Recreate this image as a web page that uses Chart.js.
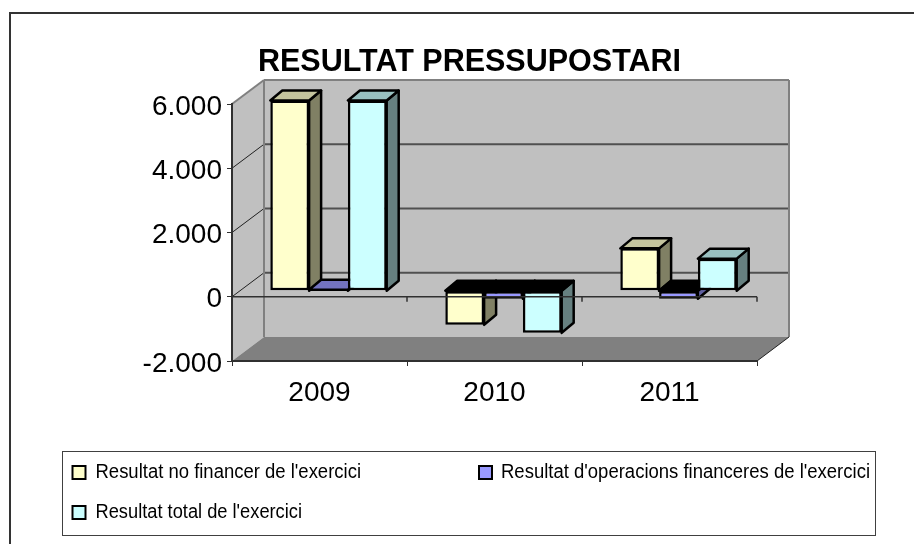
<!DOCTYPE html>
<html><head><meta charset="utf-8">
<style>html,body{margin:0;padding:0;background:#fff}#w{width:914px;height:544px;position:relative}</style>
<script src="https://cdn.jsdelivr.net/npm/chart.js@4"></script>
</head><body><div id="w"><canvas id="c" width="914" height="544"></canvas></div>
<script>
const categories = ['2009','2010','2011'];
const noFinancer = [5920,-1060,1320];
const financer = [30,-250,-250];
const total = [5920,-1310,1000];
const seriesNames = ["Resultat no financer de l'exercici","Resultat d'operacions financeres de l'exercici","Resultat total de l'exercici"];
const frontColors = ['#FFFFCC','#9999FF','#CCFFFF'];
const topColors = ['#C4C49E','#7373C0','#99C0C0'];
const sideColors = ['#808064','#6060A0','#668080'];
const titleText = 'RESULTAT PRESSUPOSTARI';
const yTicks = [-2000,0,2000,4000,6000];

const FONT = '"Liberation Sans", Arial, sans-serif';
const WALL = {dx:32, dy:-24};
const BAR = {sx:9, sy:-6, dx:12, dy:-10};
const LEGEND={x:62,y:451,w:813,h:84,items:[{x:72.5,y:472.5,tx:95.5,w:265.5},{x:479,y:472.5,tx:501,w:369},{x:72.5,y:512.5,tx:95.5,w:206.5}]};

function poly(ctx, pts, fill, stroke, lw){
  ctx.beginPath();
  pts.forEach((p,i)=> i?ctx.lineTo(p[0],p[1]):ctx.moveTo(p[0],p[1]));
  ctx.closePath();
  if(fill){ctx.fillStyle=fill;ctx.fill();}
  if(stroke){ctx.strokeStyle=stroke;ctx.lineWidth=lw||1;ctx.lineJoin='round';ctx.stroke();}
}
function seg(ctx,x1,y1,x2,y2,c,lw){
  ctx.beginPath();ctx.moveTo(x1,y1);ctx.lineTo(x2,y2);ctx.strokeStyle=c;ctx.lineWidth=lw;ctx.stroke();
}

const scene = {
  id:'scene',
  afterLayout(chart){
    chart.titleBlock.left=0; chart.titleBlock.right=939;
  },
  beforeDraw(chart){
    const {ctx,chartArea:a,scales:{y}} = chart;
    ctx.save();
    ctx.fillStyle='#fff';ctx.fillRect(0,0,914,544);
    seg(ctx,10,13,914,13,'#333',2);
    seg(ctx,10,12,10,544,'#333',2);
    const l=a.left,r=a.right,t=a.top,b=a.bottom,dx=WALL.dx,dy=WALL.dy;
    poly(ctx,[[l+dx,t+dy],[r+dx,t+dy],[r+dx,b+dy],[l+dx,b+dy]],'#C0C0C0');
    poly(ctx,[[l,t],[l+dx,t+dy],[l+dx,b+dy],[l,b]],'#C0C0C0');
    poly(ctx,[[l,b],[r,b],[r+dx,b+dy],[l+dx,b+dy]],'#808080');
    yTicks.forEach(v=>{
      if(v===yTicks[0]||v===yTicks[yTicks.length-1])return;
      const p=y.getPixelForValue(v);
      seg(ctx,l+dx,p+dy,r+dx,p+dy,'#505050',2);
      seg(ctx,l,p,l+dx,p+dy,'#202020',1);
    });
    seg(ctx,l,t,l+dx,t+dy,'#808080',2);
    seg(ctx,l+dx,t+dy,r+dx,t+dy,'#808080',2);
    seg(ctx,l+dx,t+dy,l+dx,b+dy,'#808080',2);
    seg(ctx,r+dx,t+dy,r+dx,b+dy,'#808080',2);
    seg(ctx,r,b,r+dx,b+dy,'#202020',1);
    ctx.restore();
  },
  beforeDatasetsDraw(chart){
    const {ctx,scales:{y}} = chart;
    const zero=y.getPixelForValue(0);
    ctx.save();
    ctx.translate(BAR.sx,BAR.sy);
    const d=BAR;
    chart.data.datasets.forEach((ds,i)=>{
      const meta=chart.getDatasetMeta(i);
      meta.data.forEach((el,j)=>{
        const val=ds.data[j];
        const x0=el.x-el.width/2,x1=el.x+el.width/2;
        const vy=el.y;
        const topY=Math.min(vy,zero),botY=Math.max(vy,zero);
        poly(ctx,[[x1,topY],[x1+d.dx,topY+d.dy],[x1+d.dx,botY+d.dy],[x1,botY]],sideColors[i],'#000',2.5);
        poly(ctx,[[x0,topY],[x1,topY],[x1+d.dx,topY+d.dy],[x0+d.dx,topY+d.dy]],val<0?'#000':topColors[i],'#000',2.5);
      });
    });
  },
  afterDatasetsDraw(chart){
    const {ctx,chartArea:a,scales:{y}} = chart;
    ctx.restore();
    const zero=y.getPixelForValue(0);
    ctx.save();
    seg(ctx,a.left,zero,a.right,zero,'#303030',1.5);
    for(let i=0;i<=categories.length;i++){
      const px=a.left+(a.right-a.left)*i/categories.length;
      seg(ctx,px,zero,px,zero+5,'#303030',1.5);
    }
    ctx.restore();
  },
  afterDraw(chart){
    const {ctx}=chart;
    ctx.save();
    const L=LEGEND;
    ctx.strokeStyle='#404040';ctx.lineWidth=1;ctx.strokeRect(L.x+.5,L.y+.5,L.w,L.h);
    ctx.textBaseline='middle';ctx.textAlign='left';
    chart.data.datasets.forEach((ds,i)=>{
      const e=L.items[i];
      ctx.fillStyle=frontColors[i];ctx.fillRect(e.x,e.y-6.5,13,13);
      ctx.strokeStyle='#000';ctx.lineWidth=2;ctx.strokeRect(e.x,e.y-6.5,13,13);
      ctx.fillStyle='#000';
      ctx.font='20px '+FONT;
      ctx.save();
      ctx.translate(e.tx,e.y);
      const w=ctx.measureText(ds.label).width;
      ctx.scale(e.w/w,1);
      ctx.fillText(ds.label,0,0);
      ctx.restore();
    });
    ctx.restore();
  }
};

new Chart(document.getElementById('c'),{
  type:'bar',
  plugins:[scene],
  data:{labels:categories,datasets:[noFinancer,financer,total].map((d,i)=>({
    label:seriesNames[i],data:d,backgroundColor:frontColors[i],borderColor:'#000',borderWidth:2.5,borderSkipped:false,
    barPercentage:1,categoryPercentage:0.665
  }))},
  options:{
    responsive:false,animation:false,
    layout:{padding:{left:0,right:157,top:0,bottom:133}},
    plugins:{
      legend:{display:false},tooltip:{enabled:false},
      title:{display:true,text:titleText,color:'#000',font:{family:FONT,size:30.5,weight:'bold'},padding:{top:44,bottom:23.4},align:'center'}
    },
    scales:{
      x:{afterFit(s){s.height=50;},
         grid:{display:true,drawOnChartArea:false,drawTicks:true,tickLength:5,color:'#303030',offset:true},
         border:{color:'#303030',width:2},
         ticks:{color:'#000',font:{family:FONT,size:28},padding:10.5,maxRotation:0}},
      y:{min:-2000,max:6000,afterFit(s){s.width=232;},
         afterBuildTicks(s){s.ticks=yTicks.map(v=>({value:v}));},
         grid:{display:true,drawOnChartArea:false,drawTicks:true,tickLength:5,color:'#303030'},
         border:{color:'#303030',width:2},
         ticks:{color:'#000',font:{family:FONT,size:28},padding:5,labelOffset:3,callback:v=>v<0?'-'+Math.abs(v).toLocaleString('de-DE'):v.toLocaleString('de-DE')}}
    }
  }
});
</script></body></html>
